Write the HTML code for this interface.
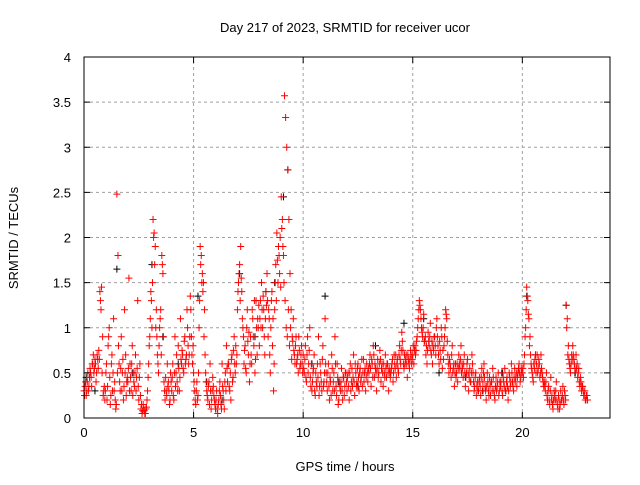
<!DOCTYPE html>
<html><head><meta charset="utf-8"><style>
html,body{margin:0;padding:0;background:#fff;}
svg text{font-family:"Liberation Sans",sans-serif;font-size:13px;fill:#000;}
</style></head><body>
<svg id="chart" width="640" height="480" viewBox="0 0 640 480" xmlns="http://www.w3.org/2000/svg">
<rect width="640" height="480" fill="#fff"/>
<g id="grid"></g>
<g id="black"></g>
<g id="red"></g>
<g id="axes"></g>
<text x="345" y="32" text-anchor="middle">Day 217 of 2023, SRMTID for receiver ucor</text>
<text x="345" y="471" text-anchor="middle">GPS time / hours</text>
<text x="0" y="0" transform="translate(18,238) rotate(-90)" text-anchor="middle">SRMTID / TECUs</text>
</svg>
<script>
const xTicks = [0,5,10,15,20];
const yTicks = [0,0.5,1,1.5,2,2.5,3,3.5,4];
const yTickLabels = ["0","0.5","1","1.5","2","2.5","3","3.5","4"];
const redByHour = [
[0.3,0.35,0.25,0.4,0.3,0.45,0.5,0.35,0.6,0.5,0.65,0.4,0.7,0.55,0.65,1.3,1.45,0.9,0.3,0.2],
[0.5,0.2,0.8,1.0,0.15,0.6,0.3,1.1,0.4,0.1,2.48,1.8,0.6,0.3,0.9,0.5,0.2,1.2,0.7,0.4],
[0.4,1.55,0.6,0.3,0.8,0.5,0.35,0.7,0.45,1.3,0.2,0.6,0.1,0.05,0.15,0.08,0.05,0.12,0.3,0.6],
[0.9,1.4,1.0,2.2,2.05,1.9,1.2,0.7,0.5,1.0,1.2,1.8,1.6,0.4,0.2,0.3,0.6,0.4,0.15,0.5],
[0.3,0.6,0.2,0.9,0.5,0.4,0.8,0.3,1.1,0.6,0.7,0.5,0.9,0.65,1.2,0.8,0.7,1.35,0.9,0.6],
[0.5,0.3,0.15,0.4,0.25,1.0,1.9,1.8,1.6,1.5,1.2,0.5,0.3,0.2,0.4,0.6,0.1,0.3,0.35,0.2],
[0.1,0.3,0.05,0.2,0.4,0.15,0.6,0.3,0.1,0.5,0.8,0.4,0.6,0.3,0.2,0.7,0.45,0.9,0.5,0.6],
[1.2,1.5,1.7,1.9,1.4,1.0,0.6,0.8,0.5,1.2,0.7,0.4,0.9,0.6,1.1,0.8,0.5,1.3,0.7,1.0],
[0.8,1.3,1.5,1.0,1.2,0.7,1.4,1.6,0.9,1.1,0.5,1.3,0.8,0.3,1.2,1.7,2.05,1.5,1.8,2.0],
[2.45,2.2,1.8,3.57,3.33,3.0,2.75,2.2,1.6,1.2,0.9,1.1,0.7,0.8,0.6,0.7,0.9,0.55,0.7,0.6],
[0.7,0.5,0.8,0.4,0.9,0.6,1.0,0.35,0.3,0.5,0.7,0.25,0.4,0.6,0.9,0.35,0.5,0.3,0.8,0.4],
[1.1,0.5,0.3,0.6,0.2,0.4,0.7,0.3,0.5,0.9,0.35,0.6,0.15,0.4,0.3,0.55,0.2,0.45,0.35,0.5],
[0.3,0.5,0.2,0.6,0.4,0.35,0.7,0.25,0.5,0.4,0.6,0.3,0.55,0.45,0.35,0.65,0.5,0.3,0.6,0.4],
[0.5,0.7,0.35,0.6,0.8,0.45,0.55,0.3,0.65,0.5,0.75,0.4,0.6,0.35,0.5,0.7,0.45,0.6,0.3,0.5],
[0.5,0.6,0.4,0.7,0.55,0.45,0.65,0.5,0.8,0.6,0.95,0.75,0.55,0.6,0.7,0.45,0.65,0.55,0.75,0.6],
[0.7,0.6,0.8,0.75,0.9,1.1,1.3,1.2,1.0,0.9,1.15,0.85,0.7,0.6,0.95,0.8,1.05,0.7,0.6,0.75],
[0.9,0.7,1.1,0.8,0.6,0.75,1.0,0.55,0.65,0.9,1.2,1.1,0.7,0.5,0.6,0.45,0.8,0.55,0.35,0.6],
[0.5,0.4,0.7,0.55,0.8,0.6,0.45,0.7,0.35,0.5,0.65,0.3,0.55,0.4,0.7,0.5,0.3,0.45,0.25,0.4],
[0.3,0.45,0.25,0.55,0.4,0.6,0.35,0.2,0.5,0.3,0.45,0.25,0.4,0.55,0.3,0.2,0.45,0.35,0.5,0.3],
[0.35,0.5,0.25,0.4,0.55,0.3,0.45,0.2,0.5,0.35,0.6,0.4,0.3,0.55,0.45,0.35,0.5,0.6,0.4,0.55],
[0.5,0.45,0.7,1.0,1.45,1.3,1.1,0.9,0.6,0.5,0.4,0.55,0.7,0.6,0.5,0.65,0.45,0.7,0.5,0.4],
[0.4,0.3,0.5,0.2,0.35,0.15,0.45,0.25,0.1,0.3,0.2,0.4,0.15,0.25,0.1,0.3,0.2,0.35,0.15,0.25],
[1.25,1.1,0.8,0.6,0.5,0.7,0.8,0.65,0.55,0.7,0.6,0.5,0.4,0.45,0.3,0.35,0.25,0.3,0.2,0.25]
];
const redByHourB = [
[0.25,0.4,0.3,0.5,0.35,0.55,0.45,0.6,0.7,0.55,0.6,0.5,0.65,0.75,1.4,1.2,0.5,0.25,0.35,0.3],
[0.6,0.35,0.9,0.45,0.25,0.7,0.5,0.3,0.2,0.15,0.5,0.8,0.4,0.55,0.3,0.65,0.35,0.5,0.25,0.45],
[0.55,0.3,0.45,0.6,0.25,0.4,0.5,0.3,0.55,0.35,0.45,0.25,0.15,0.08,0.1,0.05,0.1,0.2,0.45,0.8],
[1.1,1.3,1.5,2.0,1.7,1.0,0.9,0.6,0.8,1.1,0.7,1.7,0.9,0.3,0.45,0.25,0.35,0.3,0.2,0.4],
[0.45,0.25,0.5,0.35,0.7,0.3,0.55,0.45,0.65,0.75,0.55,0.85,0.6,0.7,1.0,0.6,0.9,1.2,0.7,0.8],
[0.4,0.2,0.3,0.2,0.5,1.3,1.7,1.5,1.4,0.9,0.7,0.4,0.25,0.35,0.15,0.3,0.2,0.45,0.25,0.15],
[0.2,0.1,0.15,0.3,0.25,0.1,0.35,0.2,0.4,0.3,0.55,0.6,0.35,0.5,0.65,0.4,0.75,0.6,0.8,0.7],
[1.4,1.6,1.3,1.55,1.1,0.9,0.75,0.55,1.0,0.85,0.95,0.6,0.7,1.2,0.9,1.3,0.65,1.0,1.1,1.25],
[1.1,1.0,1.2,1.35,0.9,1.1,1.25,1.3,1.2,0.7,1.0,1.4,1.1,0.6,1.5,1.3,1.75,1.9,1.6,1.45],
[2.1,1.9,1.5,1.3,1.0,0.9,1.2,0.8,1.0,0.65,0.85,0.75,0.6,0.9,0.65,0.5,0.75,0.6,0.8,0.5],
[0.55,0.65,0.45,0.7,0.5,0.75,0.45,0.6,0.4,0.55,0.3,0.5,0.35,0.45,0.25,0.6,0.4,0.65,0.35,0.5],
[0.6,0.4,0.5,0.35,0.45,0.25,0.55,0.4,0.3,0.6,0.25,0.45,0.2,0.35,0.4,0.3,0.45,0.25,0.5,0.4],
[0.45,0.35,0.5,0.3,0.55,0.45,0.4,0.6,0.35,0.55,0.45,0.5,0.4,0.65,0.5,0.4,0.55,0.45,0.5,0.55],
[0.6,0.55,0.65,0.45,0.7,0.6,0.5,0.55,0.45,0.6,0.65,0.55,0.5,0.6,0.45,0.55,0.6,0.5,0.55,0.45],
[0.55,0.65,0.5,0.6,0.7,0.6,0.55,0.7,0.65,0.75,0.85,0.6,0.7,0.65,0.6,0.7,0.6,0.65,0.7,0.65],
[0.8,0.75,0.7,0.85,1.0,1.2,1.25,1.1,0.95,1.0,0.85,0.9,0.8,0.75,0.85,0.9,0.75,0.85,0.8,0.9],
[0.8,1.0,0.9,0.7,0.85,0.65,0.9,0.75,0.8,1.0,1.15,0.85,0.6,0.65,0.55,0.7,0.5,0.6,0.5,0.45],
[0.6,0.55,0.6,0.65,0.5,0.55,0.6,0.5,0.45,0.6,0.5,0.45,0.4,0.5,0.6,0.4,0.35,0.5,0.35,0.3],
[0.4,0.35,0.45,0.3,0.5,0.45,0.3,0.35,0.4,0.25,0.35,0.4,0.3,0.45,0.25,0.35,0.3,0.4,0.25,0.4],
[0.4,0.3,0.45,0.35,0.3,0.4,0.35,0.3,0.45,0.4,0.5,0.35,0.45,0.4,0.5,0.45,0.55,0.5,0.45,0.5],
[0.55,0.6,0.9,1.2,1.35,1.15,0.8,0.7,0.55,0.45,0.6,0.65,0.5,0.7,0.55,0.6,0.5,0.55,0.45,0.35],
[0.35,0.4,0.25,0.3,0.2,0.3,0.2,0.15,0.2,0.25,0.3,0.2,0.1,0.2,0.15,0.2,0.25,0.2,0.3,0.2],
[1.0,0.7,0.65,0.55,0.6,0.65,0.7,0.6,0.5,0.55,0.45,0.55,0.35,0.4,0.35,0.3,0.25,0.2,0.25,0.2]
];
const blackTimes = [0.1,0.5,1.5,2.2,3.1,3.6,4.3,5.2,5.6,6.3,7.1,7.8,8.3,8.7,9.1,9.3,10.4,11.0,11.6,12.5,13.3,14.6,15.5,16.2,17.4,18.2,19.1,20.2,20.6,21.5,22.0,22.4];
const blackValues = [0.45,0.3,1.65,0.5,1.7,0.9,0.6,1.35,0.4,0.2,1.6,0.9,1.4,1.5,2.45,2.75,0.6,1.35,0.4,0.35,0.8,1.05,1.1,0.5,0.45,0.3,0.5,1.35,0.7,0.2,1.25,0.5];

const X0=84,X1=610,Y0=418,Y1=57,XMAX=24,YMAX=4;
const xs=t=>X0+(X1-X0)*t/XMAX;
const ys=v=>Y0-(Y0-Y1)*v/YMAX;
const NS="http://www.w3.org/2000/svg";
function mk(tag,attrs,parent){const e=document.createElementNS(NS,tag);for(const k in attrs)e.setAttribute(k,attrs[k]);parent.appendChild(e);return e;}
const grid=document.getElementById('grid'),axes=document.getElementById('axes');
xTicks.forEach(t=>{
  const x=xs(t);
  if(t>0){const l=mk('line',{x1:x,y1:Y0,x2:x,y2:Y1,stroke:'#a0a0a0','stroke-dasharray':'3,3'},grid);
  
  }
  mk('line',{x1:x,y1:Y0,x2:x,y2:Y0-6,stroke:'#000'},axes);
  mk('line',{x1:x,y1:Y1,x2:x,y2:Y1+6,stroke:'#000'},axes);
  const tx=mk('text',{x:x,y:Y0+19,'text-anchor':'middle'},axes);tx.textContent=t;
  
  
});
yTicks.forEach((v,i)=>{
  const y=ys(v);
  if(v>0&&v<YMAX){const l=mk('line',{x1:X0,y1:y,x2:X1,y2:y,stroke:'#a0a0a0','stroke-dasharray':'3,3'},grid);
  
  }
  mk('line',{x1:X0,y1:y,x2:X0+6,y2:y,stroke:'#000'},axes);
  mk('line',{x1:X1,y1:y,x2:X1-6,y2:y,stroke:'#000'},axes);
  const tx=mk('text',{x:X0-13,y:y+5,'text-anchor':'end'},axes);tx.textContent=yTickLabels[i];
  
  
});
mk('rect',{x:X0,y:Y1,width:X1-X0,height:Y0-Y1,fill:'none',stroke:'#000'},axes);
function plus(t,v,color,g){
  const x=xs(t),y=ys(v);
  return mk('path',{d:`M${x-3.5},${y}h7M${x},${y-3.5}v7`,stroke:color,'stroke-width':1,fill:'none'},g);
}
const bg=document.getElementById('black');
blackTimes.forEach((t,i)=>{
  const p=plus(t,blackValues[i],'#000',bg);
  
  
});
const rg=document.getElementById('red');
redByHour.forEach((vals,h)=>{
  vals.forEach((v,j)=>{
    const p=plus(h+j/vals.length,v,'#ff0000',rg);
    
    
  });
});
redByHourB.forEach((vals,h)=>{
  vals.forEach((v,j)=>{
    const p=plus(h+(j+0.5)/vals.length,v,'#ff0000',rg);
    
    
  });
});
</script>
</body></html>
